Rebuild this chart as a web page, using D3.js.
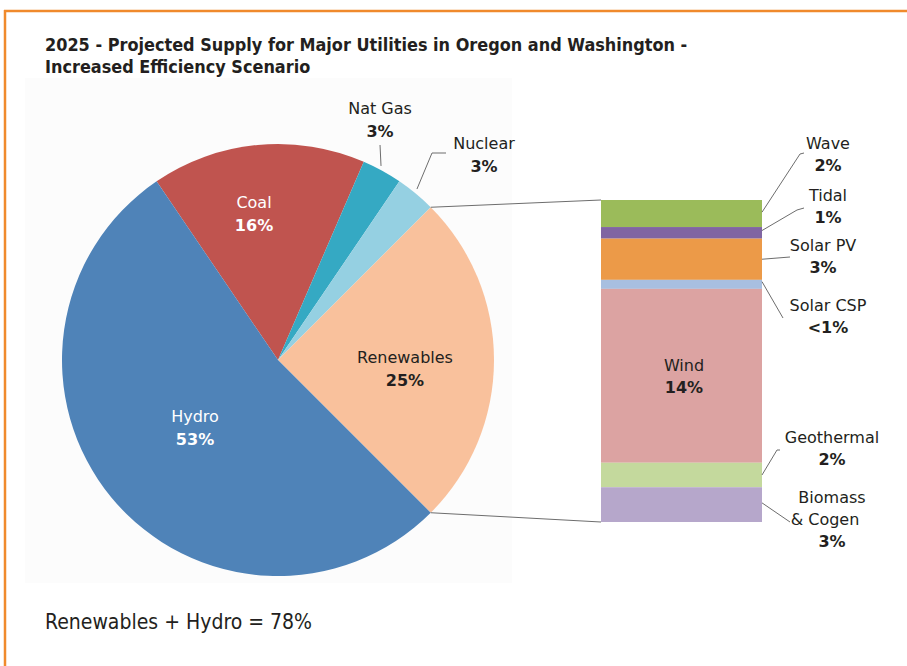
<!DOCTYPE html>
<html>
<head>
<meta charset="utf-8">
<script src="https://cdn.jsdelivr.net/npm/d3@7"></script>
<style>
  body { margin: 0; background: #fff; }
  svg { display: block; }
  .lbl { font-family: "DejaVu Sans", Verdana, sans-serif; font-size: 16px; fill: #231f20; }
  .pct { font-weight: bold; }
  .leader { fill: none; stroke: #6d6d6d; stroke-width: 1; }
</style>
</head>
<body>
<div class="chart"></div>
<script>
// pie data
const sources = ['Coal', 'Nat Gas', 'Nuclear', 'Renewables', 'Hydro'];
const shares = [16, 3, 3, 25, 53];
const shareLabels = ['16%', '3%', '3%', '25%', '53%'];
const pieColors = ['#c0544f', '#35a9c3', '#95d0e2', '#f9c19c', '#4f83b8'];

// renewables breakdown (stacked bar)
const renewables = ['Wave', 'Tidal', 'Solar PV', 'Solar CSP', 'Wind', 'Geothermal', 'Biomass & Cogen'];
const renewShares = [2.1, 0.9, 3.2, 0.7, 13.5, 1.9, 2.7];
const renewLabels = ['2%', '1%', '3%', '<1%', '14%', '2%', '3%'];
const barColors = ['#9bbb5a', '#8065a2', '#ec9a48', '#a8bfe0', '#dca3a2', '#c4d99d', '#b6a7cb'];

const width = 907, height = 666;
const cx = 278, cy = 360, radius = 216;

const svg = d3.select(".chart").append("svg")
    .attr("width", width)
    .attr("height", height);

// orange frame (top + left edges)
svg.append("line").attr("x1", 4).attr("x2", width).attr("y1", 11).attr("y2", 11)
    .attr("stroke", "#f08a2c").attr("stroke-width", 2.5);
svg.append("line").attr("x1", 5).attr("x2", 5).attr("y1", 10).attr("y2", height)
    .attr("stroke", "#f08a2c").attr("stroke-width", 2.5);

// faint panel behind the chart
svg.append("rect").attr("x", 25).attr("y", 78).attr("width", 487).attr("height", 505)
    .attr("fill", "#fcfcfc");

// title
const title = svg.append("text")
    .attr("class", "lbl")
    .style("font-family", "'DejaVu Sans Condensed', 'DejaVu Sans', sans-serif")
    .style("font-stretch", "condensed")
    .style("font-weight", "bold")
    .style("font-size", "17.9px");
title.append("tspan").attr("x", 45).attr("y", 51)
    .text("2025 - Projected Supply for Major Utilities in Oregon and Washington -");
title.append("tspan").attr("x", 45).attr("y", 73)
    .text("Increased Efficiency Scenario");

// pie
const startA = -34.2 * Math.PI / 180;
const pie = d3.pie().sort(null).value(d => d.v)
    .startAngle(startA).endAngle(startA + 2 * Math.PI);
const arcs = pie(sources.map((s, i) => ({name: s, v: shares[i], pct: shareLabels[i], color: pieColors[i]})));
const arc = d3.arc().innerRadius(0).outerRadius(radius);

const pieG = svg.append("g").attr("transform", `translate(${cx},${cy})`);
pieG.selectAll("path")
    .data(arcs)
    .join("path")
    .attr("d", arc)
    .attr("fill", d => d.data.color);

// label placement for pie slices (relative to pie centre)
const pieLabelPos = {
    'Coal':       {x: -24,  y: -152, fill: '#fff'},
    'Nat Gas':    {x: 102,  y: -246, fill: '#231f20'},
    'Nuclear':    {x: 206,  y: -211, fill: '#231f20'},
    'Renewables': {x: 127,  y: 3,    fill: '#231f20'},
    'Hydro':      {x: -83,  y: 62,   fill: '#fff'}
};

arcs.forEach(d => {
    const p = pieLabelPos[d.data.name];
    const t = pieG.append("text").attr("class", "lbl")
        .attr("text-anchor", "middle").style("fill", p.fill);
    t.append("tspan").attr("x", p.x).attr("y", p.y).text(d.data.name);
    t.append("tspan").attr("class", "pct").attr("x", p.x).attr("y", p.y + 23).text(d.data.pct);
});

// pie leaders for small slices
const polar = (a, r) => [Math.sin(a) * r, -Math.cos(a) * r];
const natGas = arcs[1], nuclear = arcs[2];
const ngPt = polar((natGas.startAngle + natGas.endAngle) / 2, radius + 2);
pieG.append("path").attr("class", "leader")
    .attr("d", d3.line()([[ngPt[0] - 2, ngPt[1] - 3], [ngPt[0] - 3, -215]]));
const nuPt = polar((nuclear.startAngle + nuclear.endAngle) / 2, radius + 2);
pieG.append("path").attr("class", "leader")
    .attr("d", d3.line()([[nuPt[0], nuPt[1] - 3], [154, -207], [168, -207]]));

// stacked bar
const barX = 601, barW = 161;
const total = d3.sum(renewShares);
const y = d3.scaleLinear().domain([0, total]).range([200, 522]);
const cum = d3.cumsum(renewShares);
const segs = renewables.map((name, i) => ({
    name, v: renewShares[i], pct: renewLabels[i], color: barColors[i],
    y0: i === 0 ? 0 : cum[i - 1], y1: cum[i]
}));

svg.append("g").selectAll("rect")
    .data(segs)
    .join("rect")
    .attr("x", barX)
    .attr("width", barW)
    .attr("y", d => y(d.y0))
    .attr("height", d => y(d.y1) - y(d.y0))
    .attr("fill", d => d.color);

// connectors from the renewables slice to the bar
const ren = arcs[3];
const rs = polar(ren.startAngle, radius), re = polar(ren.endAngle, radius);
svg.append("path").attr("class", "leader")
    .attr("d", d3.line()([[cx + rs[0], cy + rs[1]], [barX, y(0)]]));
svg.append("path").attr("class", "leader")
    .attr("d", d3.line()([[cx + re[0], cy + re[1]], [barX, y(total)]]));

// bar labels: anchor text position, leader start fraction within segment, leader end points
const barLabelPos = {
    'Wave':            {x: 828, y: 149, frac: 0.45, pts: [[800, 154], [804, 153]]},
    'Tidal':           {x: 828, y: 201, frac: 0.3,  pts: [[797, 210], [804, 208]]},
    'Solar PV':        {x: 823, y: 251, frac: 0.5,  pts: [[790, 257]]},
    'Solar CSP':       {x: 828, y: 311, frac: 0.2,  pts: [[783, 318]]},
    'Wind':            {x: 684, y: 371, inside: true},
    'Geothermal':      {x: 832, y: 443, frac: 0.5,  pts: [[777, 450], [780, 450]]},
    'Biomass & Cogen': {x: 832, y: 503, frac: 0.45, pts: [[790, 522]]}
};

segs.forEach(d => {
    const p = barLabelPos[d.name];
    const t = svg.append("text").attr("class", "lbl").attr("text-anchor", "middle");
    let lines = d.name === 'Biomass & Cogen' ? ['Biomass', '& Cogen'] : [d.name];
    lines.forEach((ln, k) => {
        t.append("tspan").attr("x", ln === '& Cogen' ? p.x - 7 : p.x).attr("y", p.y + k * 22).text(ln);
    });
    t.append("tspan").attr("class", "pct").attr("x", p.x).attr("y", p.y + lines.length * 22).text(d.pct);
    if (!p.inside) {
        const sy = y(d.y0) + (y(d.y1) - y(d.y0)) * p.frac;
        svg.append("path").attr("class", "leader")
            .attr("d", d3.line()([[barX + barW, sy], ...p.pts]));
    }
});

// footnote
svg.append("text").attr("class", "lbl")
    .style("font-family", "'DejaVu Sans Condensed', 'DejaVu Sans', sans-serif")
    .style("font-stretch", "condensed")
    .style("font-size", "21px")
    .attr("x", 45).attr("y", 629)
    .text("Renewables + Hydro = 78%");
</script>
</body>
</html>
